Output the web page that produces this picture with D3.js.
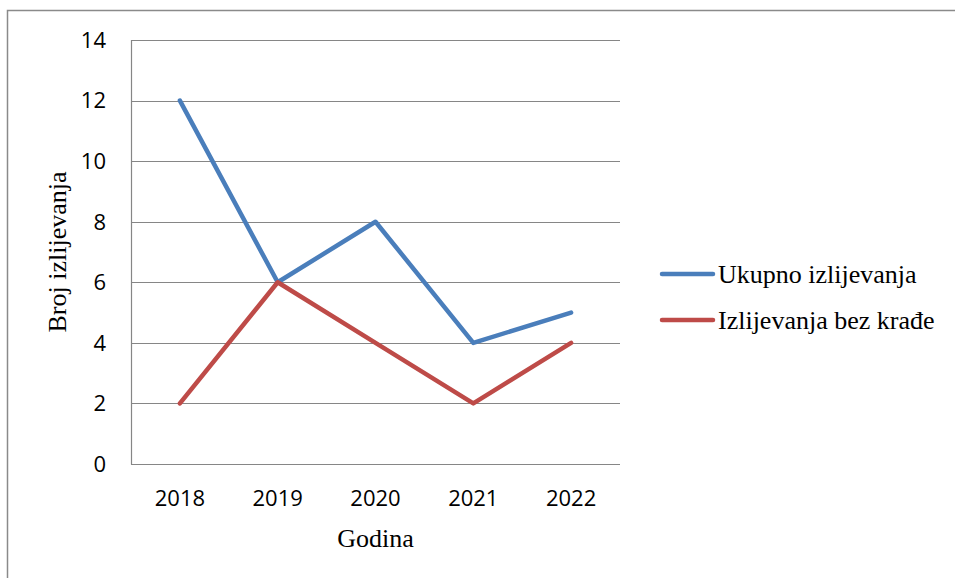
<!DOCTYPE html>
<html>
<head>
<meta charset="utf-8">
<script src="https://cdn.jsdelivr.net/npm/d3@7"></script>
<style>
  html, body { margin: 0; padding: 0; background: #fff; }
  svg { display: block; }
</style>
</head>
<body>
<svg id="chart" width="955" height="578"></svg>
<script>
const years = ["2018", "2019", "2020", "2021", "2022"];
const ukupno = [12, 6, 8, 4, 5];
const bezKrade = [2, 6, 4, 2, 4];
const yTicks = [0, 2, 4, 6, 8, 10, 12, 14];
const seriesNames = ["Ukupno izlijevanja", "Izlijevanja bez krađe"];
const seriesColors = ["#4a7ebb", "#be4b48"];

const svg = d3.select("#chart");
const plot = { left: 131, right: 620, top: 40, bottom: 464 };

// outer frame
svg.append("rect")
  .attr("x", 7.5).attr("y", 10.5)
  .attr("width", 1000).attr("height", 1000)
  .attr("fill", "none").attr("stroke", "#8a8a8a").attr("stroke-width", 1.5);

const x = d3.scaleBand().domain(years).range([plot.left, plot.right]);
const y = d3.scaleLinear().domain([0, 14]).range([plot.bottom, plot.top]);

// gridlines
svg.append("g").selectAll("line").data(yTicks.filter(d => d > 0)).join("line")
  .attr("x1", plot.left).attr("x2", plot.right)
  .attr("y1", d => Math.round(y(d)) + 0.5).attr("y2", d => Math.round(y(d)) + 0.5)
  .attr("stroke", "#868686").attr("stroke-width", 1.2);

// axes lines
svg.append("line")
  .attr("x1", plot.left + 0.5).attr("x2", plot.left + 0.5)
  .attr("y1", plot.top).attr("y2", plot.bottom + 0.5)
  .attr("stroke", "#868686").attr("stroke-width", 1.2);
svg.append("line")
  .attr("x1", plot.left).attr("x2", plot.right)
  .attr("y1", plot.bottom + 0.5).attr("y2", plot.bottom + 0.5)
  .attr("stroke", "#868686").attr("stroke-width", 1.2);

// y tick labels
svg.append("g").selectAll("text").data(yTicks).join("text")
  .attr("x", 106).attr("y", d => y(d))
  .attr("dy", "0.36em")
  .attr("text-anchor", "end")
  .attr("font-family", "'Open Sans', sans-serif")
  .attr("font-size", 22).attr("fill", "#000")
  .text(d => d);

// x tick labels
svg.append("g").selectAll("text").data(years).join("text")
  .attr("x", d => x(d) + x.bandwidth() / 2).attr("y", 506)
  .attr("text-anchor", "middle")
  .attr("font-family", "'Open Sans', sans-serif")
  .attr("font-size", 22).attr("fill", "#000")
  .text(d => d);

// axis titles
svg.append("text")
  .attr("x", (plot.left + plot.right) / 2).attr("y", 547)
  .attr("text-anchor", "middle")
  .attr("font-family", "'Liberation Serif', 'Times New Roman', serif")
  .attr("font-size", 26).text("Godina");

svg.append("text")
  .attr("transform", `translate(66, ${(plot.top + plot.bottom) / 2}) rotate(-90)`)
  .attr("text-anchor", "middle")
  .attr("font-family", "'Liberation Serif', 'Times New Roman', serif")
  .attr("font-size", 26).text("Broj izlijevanja");

// lines
const line = d3.line()
  .x((d, i) => x(years[i]) + x.bandwidth() / 2)
  .y(d => y(d));

[ukupno, bezKrade].forEach((vals, i) => {
  svg.append("path")
    .datum(vals)
    .attr("d", line)
    .attr("fill", "none")
    .attr("stroke", seriesColors[i])
    .attr("stroke-width", 4.5)
    .attr("stroke-linejoin", "round")
    .attr("stroke-linecap", "round");
});

// legend
const legendY = [274, 320];
const lg = svg.append("g");
seriesNames.forEach((name, i) => {
  lg.append("line")
    .attr("x1", 662).attr("x2", 713)
    .attr("y1", legendY[i]).attr("y2", legendY[i])
    .attr("stroke", seriesColors[i]).attr("stroke-width", 4.5)
    .attr("stroke-linecap", "round");
  lg.append("text")
    .attr("x", 718).attr("y", legendY[i] + 9)
    .attr("font-family", "'Liberation Serif', 'Times New Roman', serif")
    .attr("font-size", 26).attr("fill", "#000")
    .text(name);
});
</script>
</body>
</html>
